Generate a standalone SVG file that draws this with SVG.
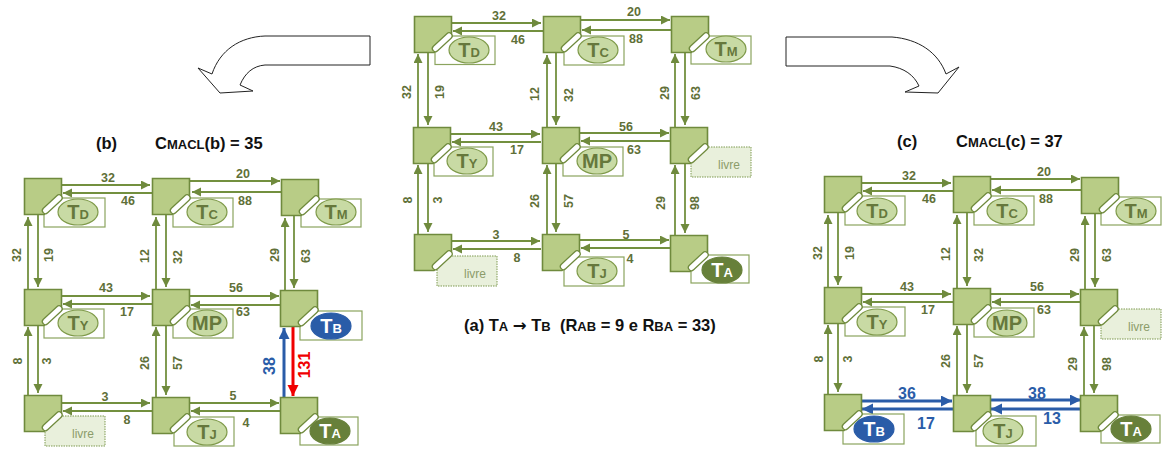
<svg xmlns="http://www.w3.org/2000/svg" width="1163" height="450" viewBox="0 0 1163 450">
<style>
text{font-family:"Liberation Sans",Arial,sans-serif;font-weight:bold}
.l{font-size:12.5px;fill:#5f7038;text-anchor:middle;dominant-baseline:central}
.lb{font-size:16px;fill:#2a5ca8;text-anchor:middle;dominant-baseline:central}
.lr{font-size:16px;fill:#f00000;text-anchor:middle;dominant-baseline:central}
.t{font-size:16.5px;fill:#111;text-anchor:start}
.t tspan{font-size:13px}
.t tspan.ar{font-size:16.5px;font-family:"DejaVu Sans",sans-serif}
.box{fill:#fff;stroke:#8ba45e;stroke-width:1.2}
.free{fill:#e9f0dc;stroke:#7f9a50;stroke-width:1;stroke-dasharray:1.5 1}
.e{fill:#c8daa4;stroke:#7f9a4a;stroke-width:1.2}
.ea{fill:#67803a;stroke:#67803a}
.eb{fill:#2a5ca8;stroke:#2a5ca8}
.n{font-size:20px;fill:#66783c;text-anchor:middle}
.n tspan{font-size:13px}
.w{fill:#fff}
.lv{font-size:12px;font-weight:normal;fill:#8c9c6a;text-anchor:middle}
.c path{fill:none;stroke:#73903f;stroke-width:1.8;marker-end:url(#ag)}
.c path.b{stroke:#2a5ca8;stroke-width:3;marker-end:url(#ab)}
.c path.r{stroke:#f00000;stroke-width:3;marker-end:url(#ar)}
.big{fill:#fff;stroke:#222;stroke-width:1}
</style>
<defs>
<marker id="ag" markerUnits="userSpaceOnUse" markerWidth="10" markerHeight="10" refX="9" refY="4.5" orient="auto"><path d="M0 0L9 4.5L0 9z" fill="#6f8a3d"/></marker>
<marker id="ab" markerUnits="userSpaceOnUse" markerWidth="12" markerHeight="12" refX="11" refY="5.5" orient="auto"><path d="M0 0L11 5.5L0 11z" fill="#2a5ca8"/></marker>
<marker id="ar" markerUnits="userSpaceOnUse" markerWidth="12" markerHeight="12" refX="11" refY="5.5" orient="auto"><path d="M0 0L11 5.5L0 11z" fill="#f00000"/></marker>
<g id="r">
<path d="M0.5 0.5H37.5V19L20 36.5H0.5Z" fill="#b8cc86" stroke="#6f8a3d" stroke-width="1.6"/>
<path d="M21.5 32.5L35 20" stroke="#6f8a3d" stroke-width="7.5" stroke-linecap="round"/>
<path d="M21.5 32.5L35 20" stroke="#fff" stroke-width="5" stroke-linecap="round"/>
</g>
</defs>

<path class="big" d="M370 36H265C240 37 220 50 212 74L198 68L220 93L253 91L240 85C245 73 253 66 265 65H370Z"/>
<path class="big" d="M786 37H892C918 39 938 52 946 74L959 67L938 93L905 92L919 86C914 75 904 68 890 66H786Z"/>

<g class="c" id="connectors">
<!-- a -->
<path d="M451 23H541"/><path d="M543 31H453"/><path d="M580 20H670"/><path d="M671 30H582"/>
<path d="M418 127V54"/><path d="M428 52V125"/><path d="M547 127V55"/><path d="M556 52V125"/><path d="M675 127V54"/><path d="M685 52V125"/>
<path d="M450 134H540"/><path d="M541 142H452"/><path d="M579 133H669"/><path d="M670 141H581"/>
<path d="M418 234V165"/><path d="M428 163V232"/><path d="M547 234V165"/><path d="M556 163V232"/><path d="M675 235V165"/><path d="M685 163V233"/>
<path d="M451 241H540"/><path d="M541 249H453"/><path d="M579 240H669"/><path d="M670 248H581"/>
<!-- b -->
<path d="M61 185H150"/><path d="M152 193H63"/><path d="M190 181H280"/><path d="M281 192H192"/>
<path d="M28 289V217"/><path d="M38 214V287"/><path d="M156 289V217"/><path d="M166 214V287"/><path d="M285 290V218"/><path d="M294 215V288"/>
<path d="M61 296H150"/><path d="M152 304H63"/><path d="M189 296H279"/><path d="M280 305H191"/>
<path d="M28 395V327"/><path d="M38 325V393"/><path d="M156 397V327"/><path d="M166 325V395"/>
<path d="M61 403H150"/><path d="M152 411H63"/><path d="M189 403H279"/><path d="M280 411H191"/>
<path class="b" d="M284 397V328"/><path class="r" d="M293 326V396"/>
<!-- c -->
<path d="M861 183H951"/><path d="M953 191H863"/><path d="M990 179H1080"/><path d="M1081 190H992"/>
<path d="M828 287V215"/><path d="M838 212V285"/><path d="M957 288V215"/><path d="M967 212V286"/><path d="M1085 289V216"/><path d="M1095 213V287"/>
<path d="M861 294H951"/><path d="M953 302H863"/><path d="M990 294H1079"/><path d="M1080 302H992"/>
<path d="M828 394V325"/><path d="M838 323V392"/><path d="M957 395V326"/><path d="M967 324V393"/><path d="M1084 395V327"/><path d="M1094 325V393"/>
<path class="b" d="M860 401H952"/><path class="b" d="M953 409H862"/><path class="b" d="M990 400H1081"/><path class="b" d="M1081 409H991"/>
</g>

<!-- panel a nodes -->
<g id="a-td" transform="translate(414,16)"><rect class="box" x="21" y="20" width="60" height="28.5"/><ellipse class="e" cx="55" cy="34" rx="20" ry="13"/><text class="n" x="55" y="41">T<tspan>D</tspan></text><use href="#r"/></g>
<g id="a-tc" transform="translate(543,16)"><rect class="box" x="21" y="20" width="60" height="29"/><ellipse class="e" cx="55" cy="34" rx="20" ry="13"/><text class="n" x="55" y="41">T<tspan>C</tspan></text><use href="#r"/></g>
<g id="a-tm" transform="translate(671,16)"><rect class="box" x="20" y="20" width="60" height="28"/><ellipse class="e" cx="55" cy="33" rx="20" ry="13"/><text class="n" x="55" y="40">T<tspan>M</tspan></text><use href="#r"/></g>
<g id="a-ty" transform="translate(413,127)"><rect class="box" x="21" y="20" width="59" height="29"/><ellipse class="e" cx="54" cy="34" rx="20" ry="13"/><text class="n" x="54" y="41">T<tspan>Y</tspan></text><use href="#r"/></g>
<g id="a-mp" transform="translate(542,127)"><rect class="box" x="21" y="20" width="60" height="29"/><ellipse class="e" cx="55" cy="34" rx="20" ry="13"/><text class="n" x="55" y="41">MP</text><use href="#r"/></g>
<g id="a-f1" transform="translate(670,127)"><rect class="free" x="21" y="20" width="60" height="30"/><text class="lv" x="59" y="42">livre</text><use href="#r"/></g>
<g id="a-f2" transform="translate(414,234)"><rect class="free" x="23" y="22" width="60" height="30"/><text class="lv" x="61" y="44">livre</text><use href="#r"/></g>
<g id="a-tj" transform="translate(542,234)"><rect class="box" x="22" y="23" width="60" height="29"/><ellipse class="e" cx="55" cy="37" rx="20" ry="13"/><text class="n" x="55" y="44">T<tspan>J</tspan></text><use href="#r"/></g>
<g id="a-ta" transform="translate(670,235)"><rect class="box" x="21" y="20" width="58" height="28"/><ellipse class="e ea" cx="52" cy="35" rx="20" ry="13"/><text class="n w" x="52" y="42">T<tspan>A</tspan></text><use href="#r"/></g>

<!-- panel b nodes -->
<g id="b-td" transform="translate(24,178)"><rect class="box" x="20" y="20" width="61" height="29"/><ellipse class="e" cx="54" cy="34" rx="20" ry="13"/><text class="n" x="54" y="41">T<tspan>D</tspan></text><use href="#r"/></g>
<g id="b-tc" transform="translate(152,178)"><rect class="box" x="21" y="20" width="60" height="29"/><ellipse class="e" cx="55" cy="34" rx="20" ry="13"/><text class="n" x="55" y="41">T<tspan>C</tspan></text><use href="#r"/></g>
<g id="b-tm" transform="translate(281,179)"><rect class="box" x="20" y="20" width="60" height="28"/><ellipse class="e" cx="55" cy="33" rx="20" ry="13"/><text class="n" x="55" y="40">T<tspan>M</tspan></text><use href="#r"/></g>
<g id="b-ty" transform="translate(24,289)"><rect class="box" x="20" y="20" width="60" height="29"/><ellipse class="e" cx="54" cy="34" rx="20" ry="13"/><text class="n" x="54" y="41">T<tspan>Y</tspan></text><use href="#r"/></g>
<g id="b-mp" transform="translate(152,289)"><rect class="box" x="21" y="20" width="60" height="29"/><ellipse class="e" cx="55" cy="34" rx="20" ry="13"/><text class="n" x="55" y="41">MP</text><use href="#r"/></g>
<g id="b-tb" transform="translate(280,290)"><rect class="box" x="20" y="21" width="62" height="29"/><ellipse class="e eb" cx="51" cy="36" rx="20" ry="13"/><text class="n w" x="51" y="43">T<tspan>B</tspan></text><use href="#r"/></g>
<g id="b-f" transform="translate(24,395)"><rect class="free" x="21" y="21" width="60" height="30"/><text class="lv" x="59" y="43">livre</text><use href="#r"/></g>
<g id="b-tj" transform="translate(152,397)"><rect class="box" x="22" y="20" width="60" height="29"/><ellipse class="e" cx="55" cy="35" rx="20" ry="13"/><text class="n" x="55" y="42">T<tspan>J</tspan></text><use href="#r"/></g>
<g id="b-ta" transform="translate(280,397)"><rect class="box" x="20" y="20" width="58" height="28"/><ellipse class="e ea" cx="50" cy="34" rx="20" ry="13"/><text class="n w" x="50" y="41">T<tspan>A</tspan></text><use href="#r"/></g>

<!-- panel c nodes -->
<g id="c-td" transform="translate(824,176)"><rect class="box" x="21" y="20" width="60" height="29"/><ellipse class="e" cx="53" cy="35" rx="20" ry="13"/><text class="n" x="53" y="42">T<tspan>D</tspan></text><use href="#r"/></g>
<g id="c-tc" transform="translate(953,176)"><rect class="box" x="21" y="20" width="60" height="29"/><ellipse class="e" cx="54" cy="35" rx="20" ry="13"/><text class="n" x="54" y="42">T<tspan>C</tspan></text><use href="#r"/></g>
<g id="c-tm" transform="translate(1081,177)"><rect class="box" x="20" y="20" width="60" height="28"/><ellipse class="e" cx="55" cy="34" rx="20" ry="13"/><text class="n" x="55" y="41">T<tspan>M</tspan></text><use href="#r"/></g>
<g id="c-ty" transform="translate(824,287)"><rect class="box" x="21" y="20" width="60" height="29"/><ellipse class="e" cx="53" cy="35" rx="20" ry="13"/><text class="n" x="53" y="42">T<tspan>Y</tspan></text><use href="#r"/></g>
<g id="c-mp" transform="translate(953,288)"><rect class="box" x="21" y="20" width="60" height="29"/><ellipse class="e" cx="54" cy="35" rx="20" ry="13"/><text class="n" x="54" y="42">MP</text><use href="#r"/></g>
<g id="c-f" transform="translate(1080,289)"><rect class="free" x="21" y="20" width="60" height="30"/><text class="lv" x="59" y="42">livre</text><use href="#r"/></g>
<g id="c-tb" transform="translate(824,394)"><rect class="box" x="19" y="20" width="61" height="30"/><ellipse class="e eb" cx="50" cy="35" rx="20" ry="13"/><text class="n w" x="50" y="42">T<tspan>B</tspan></text><use href="#r"/></g>
<g id="c-tj" transform="translate(953,395)"><rect class="box" x="23" y="21" width="60" height="30"/><ellipse class="e" cx="50" cy="36" rx="20" ry="13"/><text class="n" x="50" y="43">T<tspan>J</tspan></text><use href="#r"/></g>
<g id="c-ta" transform="translate(1080,395)"><rect class="box" x="21" y="20" width="59" height="28"/><ellipse class="e ea" cx="51" cy="34" rx="20" ry="13"/><text class="n w" x="51" y="41">T<tspan>A</tspan></text><use href="#r"/></g>

<g id="labels">
<text class="l" x="499" y="16">32</text><text class="l" x="518" y="40">46</text><text class="l" x="634" y="12">20</text><text class="l" x="636" y="39">88</text>
<text class="l" transform="rotate(-90 407 92)" x="407" y="92">32</text><text class="l" transform="rotate(-90 440 92)" x="440" y="92">19</text><text class="l" transform="rotate(-90 535 94)" x="535" y="94">12</text><text class="l" transform="rotate(-90 569 95)" x="569" y="95">32</text><text class="l" transform="rotate(-90 665 93)" x="665" y="93">29</text><text class="l" transform="rotate(-90 696 93)" x="696" y="93">63</text>
<text class="l" x="496" y="127">43</text><text class="l" x="517" y="150">17</text><text class="l" x="626" y="127">56</text><text class="l" x="634" y="150">63</text>
<text class="l" transform="rotate(-90 408 200)" x="408" y="200">8</text><text class="l" transform="rotate(-90 438 200)" x="438" y="200">3</text><text class="l" transform="rotate(-90 535 201)" x="535" y="201">26</text><text class="l" transform="rotate(-90 569 201)" x="569" y="201">57</text><text class="l" transform="rotate(-90 661 203)" x="661" y="203">29</text><text class="l" transform="rotate(-90 695 203)" x="695" y="203">98</text>
<text class="l" x="496" y="235">3</text><text class="l" x="517" y="258">8</text><text class="l" x="626" y="235">5</text><text class="l" x="630" y="259">4</text>

<text class="l" x="108" y="178">32</text><text class="l" x="128" y="201">46</text><text class="l" x="243" y="174">20</text><text class="l" x="245" y="201">88</text>
<text class="l" transform="rotate(-90 17 255)" x="17" y="255">32</text><text class="l" transform="rotate(-90 49 255)" x="49" y="255">19</text><text class="l" transform="rotate(-90 145 256)" x="145" y="256">12</text><text class="l" transform="rotate(-90 178 257)" x="178" y="257">32</text><text class="l" transform="rotate(-90 275 255)" x="275" y="255">29</text><text class="l" transform="rotate(-90 306 256)" x="306" y="256">63</text>
<text class="l" x="106" y="288">43</text><text class="l" x="127" y="312">17</text><text class="l" x="236" y="288">56</text><text class="l" x="243" y="312">63</text>
<text class="l" transform="rotate(-90 18 361)" x="18" y="361">8</text><text class="l" transform="rotate(-90 47 361)" x="47" y="361">3</text><text class="l" transform="rotate(-90 145 363)" x="145" y="363">26</text><text class="l" transform="rotate(-90 178 363)" x="178" y="363">57</text>
<text class="lb" transform="rotate(-90 269 366)" x="269" y="366">38</text><text class="lr" transform="rotate(-90 304 365)" x="304" y="365">131</text>
<text class="l" x="105" y="397">3</text><text class="l" x="127" y="420">8</text><text class="l" x="233" y="396">5</text><text class="l" x="246" y="423">4</text>

<text class="l" x="909" y="176">32</text><text class="l" x="929" y="199">46</text><text class="l" x="1044" y="172">20</text><text class="l" x="1046" y="199">88</text>
<text class="l" transform="rotate(-90 818 253)" x="818" y="253">32</text><text class="l" transform="rotate(-90 850 253)" x="850" y="253">19</text><text class="l" transform="rotate(-90 946 254)" x="946" y="254">12</text><text class="l" transform="rotate(-90 979 255)" x="979" y="255">32</text><text class="l" transform="rotate(-90 1075 255)" x="1075" y="255">29</text><text class="l" transform="rotate(-90 1107 255)" x="1107" y="255">63</text>
<text class="l" x="907" y="287">43</text><text class="l" x="928" y="310">17</text><text class="l" x="1037" y="287">56</text><text class="l" x="1044" y="310">63</text>
<text class="l" transform="rotate(-90 819 359)" x="819" y="359">8</text><text class="l" transform="rotate(-90 848 359)" x="848" y="359">3</text><text class="l" transform="rotate(-90 946 361)" x="946" y="361">26</text><text class="l" transform="rotate(-90 979 361)" x="979" y="361">57</text><text class="l" transform="rotate(-90 1073 364)" x="1073" y="364">29</text><text class="l" transform="rotate(-90 1107 364)" x="1107" y="364">98</text>
<text class="lb" x="907" y="393">36</text><text class="lb" x="926" y="423">17</text><text class="lb" x="1037" y="393">38</text><text class="lb" x="1052" y="418">13</text>
</g>

<g id="titles">
<text class="t" x="96" y="149">(b)</text>
<text class="t" x="155" y="149">C<tspan>MACL</tspan>(b) = 35</text>
<text class="t" x="897" y="147">(c)</text>
<text class="t" x="956" y="147">C<tspan>MACL</tspan>(c) = 37</text>
<text class="t" x="464" y="331">(a) T<tspan>A</tspan> <tspan class="ar">→</tspan> T<tspan>B</tspan>&#160; (R<tspan>AB</tspan> = 9 e R<tspan>BA</tspan> = 33)</text>
</g>
</svg>
